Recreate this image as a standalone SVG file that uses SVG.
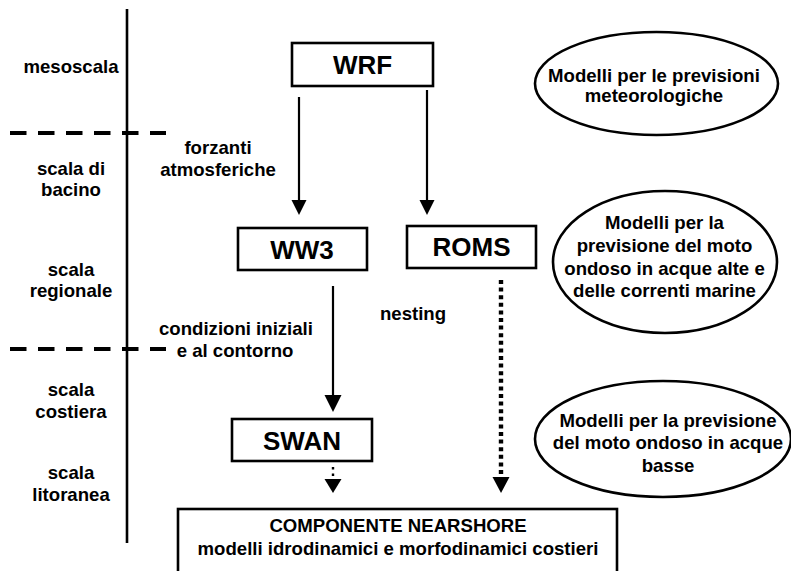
<svg xmlns="http://www.w3.org/2000/svg" width="791" height="571" viewBox="0 0 791 571">
<defs>
<style>
text{font-family:"Liberation Sans",Arial,sans-serif;font-weight:bold;fill:#000;text-anchor:middle;font-size:18.6px}
.big{font-size:26px}
.box{fill:#fff;stroke:#000;stroke-width:2.6}
.ell{fill:#fff;stroke:#000;stroke-width:2.6}
.sep{stroke:#000;stroke-width:4;stroke-dasharray:16.5 11.5;fill:none}
.axis{stroke:#000;stroke-width:2.6;fill:none}
.arr{stroke:#000;stroke-width:2.2;fill:none}
.dot{stroke:#000;stroke-width:4.4;stroke-dasharray:4 3.6;fill:none}
.sdot{stroke:#000;stroke-width:2.4;stroke-dasharray:2.4 4.2;fill:none}
.head{fill:#000}
</style>
</defs>
<rect width="791" height="571" fill="#fff"/>
<g id="scale">
<line class="axis" x1="127" y1="9" x2="127" y2="543"/>
<line class="sep" x1="10" y1="133" x2="166" y2="133"/>
<line class="sep" x1="10" y1="349" x2="166" y2="349"/>
<text x="71" y="73">mesoscala</text>
<text x="71" y="175">scala di</text>
<text x="71" y="196">bacino</text>
<text x="71" y="276">scala</text>
<text x="71" y="297">regionale</text>
<text x="71" y="396">scala</text>
<text x="71" y="418">costiera</text>
<text x="71" y="479">scala</text>
<text x="71" y="501">litoranea</text>
</g>
<g id="connectors">
<line class="arr" x1="299" y1="97" x2="299" y2="201"/>
<polygon class="head" points="291.5,200 306.5,200 299,215"/>
<line class="arr" x1="427" y1="90" x2="427" y2="201"/>
<polygon class="head" points="419.5,200 434.5,200 427,215"/>
<line class="arr" x1="333" y1="286" x2="333" y2="396"/>
<polygon class="head" points="324.5,395 341.5,395 333,412"/>
<line class="sdot" x1="333" y1="467" x2="333" y2="479"/>
<polygon class="head" points="324.5,479 341.5,479 333,493"/>
<line class="dot" x1="501" y1="280" x2="501" y2="478"/>
<polygon class="head" points="492.5,477 509.5,477 501,493"/>
<text x="218" y="154">forzanti</text>
<text x="218" y="176">atmosferiche</text>
<text x="236" y="335">condizioni iniziali</text>
<text x="235" y="357">e al contorno</text>
<text x="413" y="320">nesting</text>
</g>
<g id="wrf">
<rect class="box" x="292" y="43" width="141" height="43"/>
<text class="big" x="362.5" y="74">WRF</text>
</g>
<g id="ww3">
<rect class="box" x="238" y="228" width="129" height="42"/>
<text class="big" x="302" y="259">WW3</text>
</g>
<g id="roms">
<rect class="box" x="407" y="226" width="129" height="42"/>
<text class="big" x="471.5" y="256">ROMS</text>
</g>
<g id="swan">
<rect class="box" x="232" y="419" width="140" height="42"/>
<text class="big" x="302" y="450">SWAN</text>
</g>
<g id="nearshore">
<rect class="box" x="178" y="509" width="439" height="90"/>
<text x="398" y="532">COMPONENTE NEARSHORE</text>
<text x="398" y="555">modelli idrodinamici e morfodinamici costieri</text>
</g>
<g id="ell-meteo">
<ellipse class="ell" cx="656.5" cy="83.5" rx="121.5" ry="51.5"/>
<text x="654" y="82">Modelli per le previsioni</text>
<text x="654" y="102">meteorologiche</text>
</g>
<g id="ell-alte">
<ellipse class="ell" cx="665" cy="262" rx="112" ry="71"/>
<text x="664.5" y="229">Modelli per la</text>
<text x="664.5" y="252">previsione del moto</text>
<text x="664.5" y="275">ondoso in acque alte e</text>
<text x="664.5" y="297">delle correnti marine</text>
</g>
<g id="ell-basse">
<ellipse class="ell" cx="663" cy="439" rx="128" ry="58"/>
<text x="668" y="427">Modelli per la previsione</text>
<text x="668" y="449">del moto ondoso in acque</text>
<text x="668" y="472">basse</text>
</g>
</svg>
